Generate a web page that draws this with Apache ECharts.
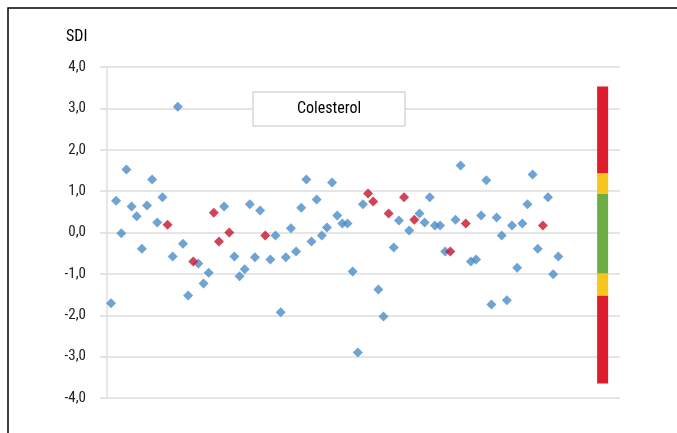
<!DOCTYPE html>
<html>
<head>
<meta charset="utf-8">
<script src="https://cdn.jsdelivr.net/npm/echarts@6/dist/echarts.min.js"></script>
<style>
html,body{margin:0;padding:0;background:#fff;}
#chart{width:677px;height:433px;}
</style>
</head>
<body>
<div id="chart"></div>
<script>
// Data
var yTicks = [-4, -3, -2, -1, 0, 1, 2, 3, 4];
var blueIdx = [1,2,3,4,5,6,7,8,9,10,11,13,14,15,16,18,19,20,23,25,26,27,28,29,30,32,33,34,35,36,37,38,39,40,41,42,43,44,45,46,47,48,49,50,53,54,56,57,59,61,62,63,64,65,66,68,69,71,72,73,74,75,76,77,78,79,80,81,82,83,84,86,87,88];
var blueVal = [-1.71,0.77,-0.02,1.52,0.63,0.39,-0.39,0.65,1.28,0.24,0.85,-0.58,3.04,-0.27,-1.52,-0.75,-1.23,-0.97,0.63,-0.58,-1.06,-0.89,0.68,-0.60,0.53,-0.65,-0.07,-1.93,-0.60,0.10,-0.46,0.60,1.28,-0.22,0.80,-0.07,0.12,1.21,0.41,0.22,0.22,-0.94,-2.90,0.68,-1.38,-2.03,-0.36,0.29,0.05,0.46,0.24,0.85,0.17,0.17,-0.46,0.31,1.62,-0.70,-0.65,0.41,1.26,-1.74,0.36,-0.07,-1.64,0.17,-0.85,0.22,0.68,1.40,-0.39,0.85,-1.01,-0.58];
var redIdx = [12,17,21,22,24,31,51,52,55,58,60,67,70,85];
var redVal = [0.19,-0.70,0.48,-0.22,0.00,-0.07,0.94,0.75,0.46,0.85,0.31,-0.46,0.22,0.17];
// Colour bar bands (lower, upper) in SDI
var bandLow  = [-3.65, -1.52, -0.99, 0.94, 1.43];
var bandHigh = [-1.52, -0.99, 0.94, 1.43, 3.53];
var bandColor = ['#e01b2c', '#f6c61d', '#6cae44', '#f6c61d', '#e01b2c'];
var barX = [95.55, 97.69];

var FONT = '"Liberation Sans Narrow", "Roboto Condensed", "Arial Narrow", Roboto, sans-serif';

function pairs(xs, ys){ return xs.map(function(x,i){ return [x, ys[i]]; }); }

var markData = bandLow.map(function(lo, i){
  return [
    { xAxis: barX[0], yAxis: lo, itemStyle: { color: bandColor[i], opacity: 1 } },
    { xAxis: barX[1], yAxis: bandHigh[i] }
  ];
});

var chart = echarts.init(document.getElementById('chart'), null, {renderer:'canvas'});
chart.setOption({
  animation: false,
  backgroundColor: '#fff',
  grid: { left: 107, right: 57, top: 67, bottom: 35, containLabel: false },
  xAxis: {
    type: 'value', min: 0.222, max: 100, show: false,
    splitLine: { show: false }
  },
  yAxis: {
    type: 'value', min: -4, max: 4, interval: 1,
    axisLine: { show: true, lineStyle: { color: '#e0e0e0', width: 1.5 } },
    axisTick: { show: true, length: 7, lineStyle: { color: '#dcdcdc', width: 1.5 } },
    splitLine: { show: true, lineStyle: { color: '#dcdcdc', width: 1.5 } },
    axisLabel: {
      margin: 21, color: '#222', fontSize: 15, fontFamily: FONT,
      formatter: function(v){ return v.toFixed(1).replace('.', ','); }
    }
  },
  graphic: [
    { type: 'rect', shape: { x: 8, y: 8, width: 720, height: 500 },
      style: { fill: 'none', stroke: '#000', lineWidth: 1.5 }, z: 100 },
    { type: 'text', left: 66, top: 29,
      style: { text: 'SDI', fontSize: 16, fontFamily: FONT, fill: '#000' } },
    { type: 'rect', shape: { x: 253, y: 92, width: 152, height: 34 },
      style: { fill: '#fff', stroke: '#c4c4c4', lineWidth: 1 }, z: 50 },
    { type: 'text', x: 329, y: 109, z: 51,
      style: { text: 'Colesterol', fontSize: 16, fontFamily: FONT, fill: '#000',
               align: 'center', verticalAlign: 'middle' } }
  ],
  series: [
    {
      type: 'scatter', symbol: 'diamond', symbolSize: 10,
      itemStyle: { color: '#4a8cc8' },
      data: pairs(blueIdx, blueVal),
      markArea: { silent: true, label: { show: false }, data: markData }
    },
    {
      type: 'scatter', symbol: 'diamond', symbolSize: 10,
      itemStyle: { color: '#c8142e' },
      data: pairs(redIdx, redVal)
    }
  ]
});
</script>
</body>
</html>
